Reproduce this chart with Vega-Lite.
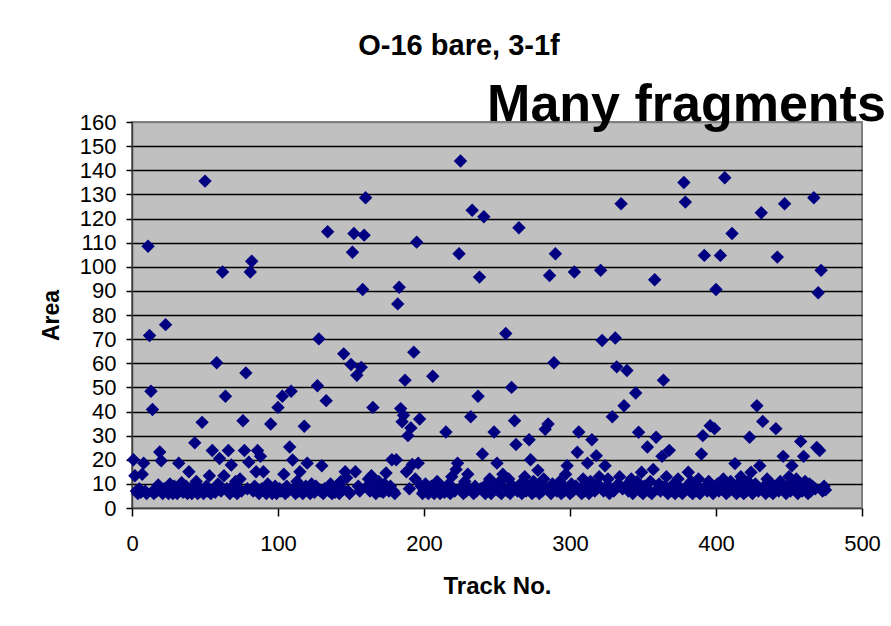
{
"$schema": "https://vega.github.io/schema/vega-lite/v6.json",
"width": 730,
"height": 386,
"autosize": {"type": "none"},
"padding": {"left": 132, "top": 122, "right": 29, "bottom": 118},
"background": "white",
"title": {"text": "O-16 bare, 3-1f", "font": "Liberation Sans", "fontSize": 29, "fontWeight": "bold", "color": "black", "anchor": "middle", "frame": "group", "dx": -38, "offset": 18},
"config": {"view": {"fill": "#C0C0C0", "stroke": "#808080", "strokeWidth": 2}, "font": "Liberation Sans"},
"layer": [
{
"data": {"values": [
{"track":1,"area":20},{"track":2,"area":13.4},{"track":3,"area":7},{"track":4,"area":6},{"track":5,"area":8},{"track":6,"area":6.5},{"track":7,"area":14},{"track":8,"area":18.6},{"track":9,"area":7},{"track":10,"area":6},
{"track":11,"area":108.5},{"track":12,"area":71.5},{"track":13,"area":48.4},{"track":14,"area":40.8},{"track":15,"area":6},{"track":16,"area":8},{"track":17,"area":7},{"track":18,"area":9.5},{"track":19,"area":23.2},{"track":20,"area":19.6},
{"track":21,"area":6},{"track":22,"area":8},{"track":23,"area":76},{"track":24,"area":7},{"track":25,"area":6},{"track":26,"area":10},{"track":27,"area":7.5},{"track":28,"area":6},{"track":29,"area":9},{"track":30,"area":7},
{"track":31,"area":6},{"track":32,"area":18.6},{"track":33,"area":8},{"track":34,"area":10.5},{"track":35,"area":6.5},{"track":36,"area":7},{"track":37,"area":9},{"track":38,"area":6},{"track":39,"area":15},{"track":40,"area":8},
{"track":41,"area":6},{"track":42,"area":7},{"track":43,"area":27},{"track":44,"area":11},{"track":45,"area":6},{"track":46,"area":8.5},{"track":47,"area":7},{"track":48,"area":35.5},{"track":49,"area":6},{"track":50,"area":135.5},
{"track":51,"area":9},{"track":52,"area":7},{"track":53,"area":13.4},{"track":54,"area":6},{"track":55,"area":23.8},{"track":56,"area":8},{"track":57,"area":6.5},{"track":58,"area":60.2},{"track":59,"area":10},{"track":60,"area":20.5},
{"track":61,"area":7},{"track":62,"area":97.8},{"track":63,"area":13.4},{"track":64,"area":46.3},{"track":65,"area":8},{"track":66,"area":23.8},{"track":67,"area":6},{"track":68,"area":17.8},{"track":69,"area":9},{"track":70,"area":7},
{"track":71,"area":11},{"track":72,"area":6},{"track":73,"area":8},{"track":74,"area":12},{"track":75,"area":7},{"track":76,"area":36.2},{"track":77,"area":23.8},{"track":78,"area":56},{"track":79,"area":8},{"track":80,"area":19},
{"track":81,"area":97.8},{"track":82,"area":102.3},{"track":83,"area":7},{"track":84,"area":9},{"track":85,"area":15},{"track":86,"area":23.8},{"track":87,"area":6},{"track":88,"area":21.4},{"track":89,"area":8},{"track":90,"area":15},
{"track":91,"area":7},{"track":92,"area":6},{"track":93,"area":10},{"track":94,"area":8},{"track":95,"area":34.8},{"track":96,"area":6},{"track":97,"area":7.5},{"track":98,"area":9},{"track":99,"area":6},{"track":100,"area":41.7},
{"track":101,"area":8},{"track":102,"area":7},{"track":103,"area":46.3},{"track":104,"area":14},{"track":105,"area":6},{"track":106,"area":9},{"track":107,"area":7},{"track":108,"area":25.3},{"track":109,"area":48.4},{"track":110,"area":19.9},
{"track":111,"area":8},{"track":112,"area":6},{"track":113,"area":11},{"track":114,"area":7},{"track":115,"area":15},{"track":116,"area":8},{"track":117,"area":6},{"track":118,"area":33.9},{"track":119,"area":9},{"track":120,"area":18.6},
{"track":121,"area":7},{"track":122,"area":6},{"track":123,"area":10},{"track":124,"area":8},{"track":125,"area":6.5},{"track":126,"area":9},{"track":127,"area":50.7},{"track":128,"area":70.1},{"track":129,"area":7},{"track":130,"area":17.5},
{"track":131,"area":6},{"track":132,"area":8},{"track":133,"area":44.5},{"track":134,"area":114.5},{"track":135,"area":7},{"track":136,"area":10},{"track":137,"area":6},{"track":138,"area":8},{"track":139,"area":6.5},{"track":140,"area":9},
{"track":141,"area":7},{"track":142,"area":6},{"track":143,"area":11},{"track":144,"area":8},{"track":145,"area":63.9},{"track":146,"area":15},{"track":147,"area":12.5},{"track":148,"area":7},{"track":149,"area":6},{"track":150,"area":59.5},
{"track":151,"area":106},{"track":152,"area":113.8},{"track":153,"area":15},{"track":154,"area":55},{"track":155,"area":9},{"track":156,"area":7},{"track":157,"area":58.3},{"track":158,"area":90.6},{"track":159,"area":113.1},{"track":160,"area":128.6},
{"track":161,"area":8.9},{"track":162,"area":12},{"track":163,"area":7},{"track":164,"area":13.4},{"track":165,"area":41.7},{"track":166,"area":9},{"track":167,"area":6},{"track":168,"area":8},{"track":169,"area":11},{"track":170,"area":7},
{"track":171,"area":9},{"track":172,"area":6.5},{"track":173,"area":10},{"track":174,"area":14.5},{"track":175,"area":8},{"track":176,"area":7},{"track":177,"area":9},{"track":178,"area":20},{"track":179,"area":7},{"track":180,"area":6},
{"track":181,"area":20},{"track":182,"area":84.6},{"track":183,"area":91.5},{"track":184,"area":41.2},{"track":185,"area":35.7},{"track":186,"area":38.4},{"track":187,"area":53},{"track":188,"area":15},{"track":189,"area":30},{"track":190,"area":8},
{"track":191,"area":33.2},{"track":192,"area":18},{"track":193,"area":64.6},{"track":194,"area":12},{"track":195,"area":110.2},{"track":196,"area":18.6},{"track":197,"area":36.9},{"track":198,"area":9},{"track":199,"area":6},{"track":200,"area":7},
{"track":201,"area":10},{"track":202,"area":8},{"track":203,"area":6},{"track":204,"area":7},{"track":205,"area":9},{"track":206,"area":54.6},{"track":207,"area":6},{"track":208,"area":8},{"track":209,"area":11},{"track":210,"area":7},
{"track":211,"area":6},{"track":212,"area":9},{"track":213,"area":8},{"track":214,"area":6.5},{"track":215,"area":31.5},{"track":216,"area":7},{"track":217,"area":10},{"track":218,"area":6},{"track":219,"area":13},{"track":220,"area":8},
{"track":221,"area":7},{"track":222,"area":16},{"track":223,"area":18.6},{"track":224,"area":105.4},{"track":225,"area":143.8},{"track":226,"area":9},{"track":227,"area":6},{"track":228,"area":11},{"track":229,"area":7},{"track":230,"area":14},
{"track":231,"area":8},{"track":232,"area":37.8},{"track":233,"area":123.4},{"track":234,"area":6},{"track":235,"area":9},{"track":236,"area":7},{"track":237,"area":46.3},{"track":238,"area":95.7},{"track":239,"area":8},{"track":240,"area":22.4},
{"track":241,"area":120.7},{"track":242,"area":6},{"track":243,"area":10},{"track":244,"area":7},{"track":245,"area":12},{"track":246,"area":6},{"track":247,"area":8},{"track":248,"area":31.5},{"track":249,"area":9},{"track":250,"area":18.6},
{"track":251,"area":7},{"track":252,"area":11},{"track":253,"area":6},{"track":254,"area":14},{"track":255,"area":8},{"track":256,"area":72.3},{"track":257,"area":7},{"track":258,"area":12},{"track":259,"area":6},{"track":260,"area":50},
{"track":261,"area":9},{"track":262,"area":36.2},{"track":263,"area":26.3},{"track":264,"area":7},{"track":265,"area":116.2},{"track":266,"area":10},{"track":267,"area":6},{"track":268,"area":8},{"track":269,"area":13},{"track":270,"area":7},
{"track":271,"area":9},{"track":272,"area":28.3},{"track":273,"area":20},{"track":274,"area":6},{"track":275,"area":11},{"track":276,"area":7},{"track":277,"area":8},{"track":278,"area":15.6},{"track":279,"area":6},{"track":280,"area":9},
{"track":281,"area":7},{"track":282,"area":12},{"track":283,"area":32.6},{"track":284,"area":8},{"track":285,"area":34.8},{"track":286,"area":96.4},{"track":287,"area":6},{"track":288,"area":10},{"track":289,"area":60.2},{"track":290,"area":105.4},
{"track":291,"area":7},{"track":292,"area":8},{"track":293,"area":11},{"track":294,"area":6},{"track":295,"area":9},{"track":296,"area":7},{"track":297,"area":14},{"track":298,"area":17.5},{"track":299,"area":8},{"track":300,"area":6},
{"track":301,"area":10},{"track":302,"area":7},{"track":303,"area":97.8},{"track":304,"area":9},{"track":305,"area":23.1},{"track":306,"area":31.5},{"track":307,"area":8},{"track":308,"area":6},{"track":309,"area":12},{"track":310,"area":7},
{"track":311,"area":9},{"track":312,"area":18.6},{"track":313,"area":6},{"track":314,"area":11},{"track":315,"area":28.3},{"track":316,"area":8},{"track":317,"area":7},{"track":318,"area":21.7},{"track":319,"area":10},{"track":320,"area":13},
{"track":321,"area":98.5},{"track":322,"area":69.4},{"track":323,"area":7},{"track":324,"area":17.5},{"track":325,"area":9},{"track":326,"area":12},{"track":327,"area":6},{"track":328,"area":8},{"track":329,"area":37.8},{"track":330,"area":7},
{"track":331,"area":70.5},{"track":332,"area":58.5},{"track":333,"area":10},{"track":334,"area":13},{"track":335,"area":126.1},{"track":336,"area":8},{"track":337,"area":42.4},{"track":338,"area":9},{"track":339,"area":57},{"track":340,"area":7},
{"track":341,"area":10},{"track":342,"area":12},{"track":343,"area":6},{"track":344,"area":8},{"track":345,"area":47.7},{"track":346,"area":11},{"track":347,"area":31.4},{"track":348,"area":7},{"track":349,"area":14.8},{"track":350,"area":6},
{"track":351,"area":9},{"track":352,"area":8},{"track":353,"area":25.3},{"track":354,"area":7},{"track":355,"area":11},{"track":356,"area":6},{"track":357,"area":16},{"track":358,"area":94.6},{"track":359,"area":29.3},{"track":360,"area":8},
{"track":361,"area":10},{"track":362,"area":7},{"track":363,"area":21.4},{"track":364,"area":53},{"track":365,"area":9},{"track":366,"area":13},{"track":367,"area":6},{"track":368,"area":23.9},{"track":369,"area":8},{"track":370,"area":7},
{"track":371,"area":10},{"track":372,"area":6},{"track":373,"area":9},{"track":374,"area":12},{"track":375,"area":7},{"track":376,"area":8},{"track":377,"area":6},{"track":378,"area":134.9},{"track":379,"area":126.8},{"track":380,"area":9},
{"track":381,"area":14.8},{"track":382,"area":7},{"track":383,"area":11},{"track":384,"area":6},{"track":385,"area":8},{"track":386,"area":10},{"track":387,"area":7},{"track":388,"area":12},{"track":389,"area":6},{"track":390,"area":22.4},
{"track":391,"area":30},{"track":392,"area":104.7},{"track":393,"area":9},{"track":394,"area":7},{"track":395,"area":11},{"track":396,"area":34.1},{"track":397,"area":8},{"track":398,"area":6},{"track":399,"area":32.9},{"track":400,"area":90.6},
{"track":401,"area":10},{"track":402,"area":7},{"track":403,"area":104.7},{"track":404,"area":8},{"track":405,"area":12},{"track":406,"area":136.9},{"track":407,"area":6},{"track":408,"area":9},{"track":409,"area":7},{"track":410,"area":11},
{"track":411,"area":113.8},{"track":412,"area":8},{"track":413,"area":18.4},{"track":414,"area":6},{"track":415,"area":10},{"track":416,"area":7},{"track":417,"area":13},{"track":418,"area":8},{"track":419,"area":6},{"track":420,"area":9},
{"track":421,"area":7},{"track":422,"area":11},{"track":423,"area":29.3},{"track":424,"area":14.8},{"track":425,"area":6},{"track":426,"area":8},{"track":427,"area":10},{"track":428,"area":42.4},{"track":429,"area":7},{"track":430,"area":17.5},
{"track":431,"area":122.4},{"track":432,"area":35.9},{"track":433,"area":9},{"track":434,"area":6},{"track":435,"area":12},{"track":436,"area":8},{"track":437,"area":7},{"track":438,"area":10},{"track":439,"area":6},{"track":440,"area":9},
{"track":441,"area":32.9},{"track":442,"area":104},{"track":443,"area":7},{"track":444,"area":11},{"track":445,"area":8},{"track":446,"area":21.4},{"track":447,"area":126.1},{"track":448,"area":6},{"track":449,"area":9},{"track":450,"area":13},
{"track":451,"area":7},{"track":452,"area":17.5},{"track":453,"area":10},{"track":454,"area":8},{"track":455,"area":12},{"track":456,"area":6},{"track":457,"area":9},{"track":458,"area":27.6},{"track":459,"area":7},{"track":460,"area":21.4},
{"track":461,"area":11},{"track":462,"area":8},{"track":463,"area":6},{"track":464,"area":10},{"track":465,"area":7},{"track":466,"area":9},{"track":467,"area":128.6},{"track":468,"area":8},{"track":469,"area":25.1},{"track":470,"area":89.2},
{"track":471,"area":23.8},{"track":472,"area":98.5},{"track":473,"area":7},{"track":474,"area":9},{"track":475,"area":7.5}
]},
"mark": {"type": "point", "shape": "diamond", "filled": true, "size": 180, "color": "#000080", "opacity": 1},
"encoding": {
"x": {"field": "track", "type": "quantitative", "scale": {"domain": [0, 500], "nice": false},
"axis": {"values": [0, 100, 200, 300, 400, 500], "title": "Track No.", "titleFont": "Liberation Sans", "titleFontSize": 24, "titleFontWeight": "bold", "titleColor": "black", "titlePadding": 20, "labelFont": "Liberation Sans", "labelFontSize": 22, "labelColor": "black", "labelPadding": 17, "labelFlush": false, "labelOverlap": false, "grid": false, "tickColor": "black", "tickSize": 8, "tickWidth": 1.5, "domainColor": "#404040", "domainWidth": 1.5}},
"y": {"field": "area", "type": "quantitative", "scale": {"domain": [0, 160], "nice": false},
"axis": {"values": [0, 10, 20, 30, 40, 50, 60, 70, 80, 90, 100, 110, 120, 130, 140, 150, 160], "title": "Area", "titleFont": "Liberation Sans", "titleFontSize": 23, "titleFontWeight": "bold", "titleColor": "black", "titlePadding": 16, "labelFont": "Liberation Sans", "labelFontSize": 22, "labelColor": "black", "labelPadding": 10, "labelFlush": false, "labelOverlap": false, "grid": true, "gridColor": {"condition": {"test": "datum.value === 0 || datum.value === 160", "value": "#808080"}, "value": "black"}, "gridWidth": 1.6, "gridOpacity": 1, "tickColor": "black", "tickSize": 6, "tickWidth": 1.5, "domainColor": "#404040", "domainWidth": 1.5}}
}
},
{
"data": {"values": [{"label": "Many fragments"}]},
"mark": {"type": "text", "align": "left", "baseline": "alphabetic", "font": "Liberation Sans", "fontSize": 52, "fontWeight": "bold", "color": "black", "dy": -1},
"encoding": {
"x": {"datum": 243.2, "type": "quantitative",
"axis": {"values": [0, 100, 200, 300, 400, 500], "title": "Track No.", "titleFont": "Liberation Sans", "titleFontSize": 24, "titleFontWeight": "bold", "titleColor": "black", "titlePadding": 20, "labelFont": "Liberation Sans", "labelFontSize": 22, "labelColor": "black", "labelPadding": 17, "labelFlush": false, "labelOverlap": false, "grid": false, "tickColor": "black", "tickSize": 8, "tickWidth": 1.5, "domainColor": "#404040", "domainWidth": 1.5}},
"y": {"datum": 160, "type": "quantitative",
"axis": {"values": [0, 10, 20, 30, 40, 50, 60, 70, 80, 90, 100, 110, 120, 130, 140, 150, 160], "title": "Area", "titleFont": "Liberation Sans", "titleFontSize": 23, "titleFontWeight": "bold", "titleColor": "black", "titlePadding": 16, "labelFont": "Liberation Sans", "labelFontSize": 22, "labelColor": "black", "labelPadding": 10, "labelFlush": false, "labelOverlap": false, "grid": true, "gridColor": {"condition": {"test": "datum.value === 0 || datum.value === 160", "value": "#808080"}, "value": "black"}, "gridWidth": 1.6, "gridOpacity": 1, "tickColor": "black", "tickSize": 6, "tickWidth": 1.5, "domainColor": "#404040", "domainWidth": 1.5}},
"text": {"field": "label"}
}
}
]
}
